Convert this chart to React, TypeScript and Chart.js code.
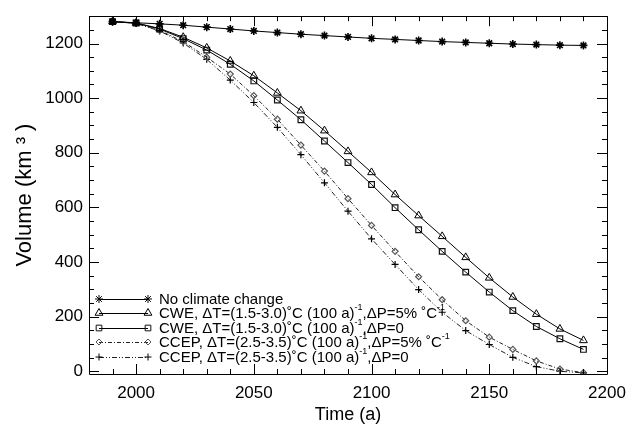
import React, { useEffect, useRef } from 'react';
import { Chart, registerables } from 'chart.js';
import { drawPoint } from 'chart.js/helpers';

Chart.register(...registerables);

const years = [1990, 2000, 2010, 2020, 2030, 2040, 2050, 2060, 2070, 2080, 2090, 2100, 2110, 2120, 2130, 2140, 2150, 2160, 2170, 2180, 2190];
const noChange = [1280, 1276, 1272, 1267, 1260, 1253, 1246, 1240, 1234, 1229, 1224, 1219, 1215, 1211, 1207, 1204, 1201, 1198, 1196, 1194, 1193];
const cwe5 = [1280, 1275, 1255, 1223, 1184, 1136, 1082, 1019, 954, 881, 805, 728, 647, 570, 494, 417, 342, 272, 209, 155, 113];
const cwe0 = [1280, 1275, 1253, 1218, 1176, 1124, 1063, 993, 921, 843, 764, 684, 599, 518, 439, 363, 290, 222, 164, 119, 80];
const ccep5 = [1280, 1274, 1248, 1207, 1150, 1088, 1009, 923, 828, 733, 632, 534, 439, 346, 262, 185, 125, 80, 38, 8, -5];
const ccep0 = [1280, 1274, 1246, 1202, 1142, 1066, 984, 893, 793, 690, 586, 485, 391, 299, 216, 149, 98, 51, 17, 0, -6];

const xTickLabels = [2000, 2050, 2100, 2150, 2200];
const yTickLabels = [0, 200, 400, 600, 800, 1000, 1200];

const seriesLabels = [
  'No climate change',
  'CWE, ΔT=(1.5-3.0)˚C (100 a)^{-1},ΔP=5% ˚C^{-1}',
  'CWE, ΔT=(1.5-3.0)˚C (100 a)^{-1},ΔP=0',
  'CCEP, ΔT=(2.5-3.5)˚C (100 a)^{-1},ΔP=5% ˚C^{-1}',
  'CCEP, ΔT=(2.5-3.5)˚C (100 a)^{-1},ΔP=0',
];

const FONT = '"Liberation Sans", Arial, Helvetica, sans-serif';

type Style = { pointStyle: string; radius: number; color: string; dash: number[]; pbw: number; pcolor: string };
const styles: Style[] = [
  { pointStyle: 'star', radius: 4, color: '#000', dash: [], pbw: 1.6, pcolor: '#000' },
  { pointStyle: 'triangle', radius: 4.5, color: '#000', dash: [], pbw: 1, pcolor: '#000' },
  { pointStyle: 'rect', radius: 4, color: '#000', dash: [], pbw: 1.2, pcolor: '#111' },
  { pointStyle: 'rectRot', radius: 3, color: '#222', dash: [4, 2, 1, 2], pbw: 1.2, pcolor: '#555' },
  { pointStyle: 'cross', radius: 3.5, color: '#222', dash: [5, 2, 1, 2, 1, 2], pbw: 1.2, pcolor: '#000' },
];

const seriesData = [noChange, cwe5, cwe0, ccep5, ccep0];

function drawRich(ctx: CanvasRenderingContext2D, text: string, x: number, y: number, size: number) {
  const parts = text.split(/(\^\{[^}]*\})/);
  let cx = x;
  for (const p of parts) {
    if (!p) continue;
    const m = p.match(/^\^\{([^}]*)\}$/);
    if (m) {
      ctx.font = `${Math.round(size * 0.62)}px ${FONT}`;
      ctx.fillText(m[1], cx, y - size * 0.42);
      cx += ctx.measureText(m[1]).width;
    } else {
      ctx.font = `${size}px ${FONT}`;
      ctx.fillText(p, cx, y);
      cx += ctx.measureText(p).width;
    }
  }
}

const framePlugin = {
  id: 'frameTicks',
  afterDatasetsDraw(chart: any) {
    const { ctx, chartArea } = chart;
    const xs = chart.scales.x;
    const ys = chart.scales.y;
    const { left, right, top, bottom } = chartArea;
    ctx.save();
    ctx.strokeStyle = '#000';
    ctx.lineWidth = 1;
    ctx.setLineDash([]);
    ctx.beginPath();
    ctx.rect(Math.round(left) + 0.5, Math.round(top) + 0.5, Math.round(right - left), Math.round(bottom - top));
    ctx.stroke();
    ctx.beginPath();
    for (let v = 1980; v <= 2200; v += 10) {
      const px = Math.round(xs.getPixelForValue(v)) + 0.5;
      const len = xTickLabels.includes(v) ? 10 : 5;
      ctx.moveTo(px, bottom);
      ctx.lineTo(px, bottom - len);
      ctx.moveTo(px, top);
      ctx.lineTo(px, top + len);
    }
    for (let v = 0; v <= 1300; v += 50) {
      const py = Math.round(ys.getPixelForValue(v)) + 0.5;
      const len = yTickLabels.includes(v) ? 10 : 5;
      ctx.moveTo(left, py);
      ctx.lineTo(left + len, py);
      ctx.moveTo(right, py);
      ctx.lineTo(right - len, py);
    }
    ctx.stroke();
    ctx.restore();
  },
  afterDraw(chart: any) {
    const { ctx } = chart;
    ctx.save();
    const x0 = 99, x1 = 148, tx = 159;
    const y0 = 299, dy = 14.4;
    chart.data.datasets.forEach((ds: any, i: number) => {
      const st = styles[i];
      const y = Math.round(y0 + i * dy);
      ctx.strokeStyle = st.color;
      ctx.lineWidth = 1;
      ctx.setLineDash(st.dash);
      ctx.beginPath();
      ctx.moveTo(x0, y + 0.5);
      ctx.lineTo(x1, y + 0.5);
      ctx.stroke();
      ctx.setLineDash([]);
      ctx.strokeStyle = st.pcolor;
      ctx.fillStyle = 'rgba(0,0,0,0)';
      const po = { pointStyle: st.pointStyle, radius: st.radius, borderWidth: st.pbw, rotation: 0 };
      drawPoint(ctx, po as any, x0, y);
      drawPoint(ctx, po as any, x1, y);
      ctx.fillStyle = '#000';
      ctx.textBaseline = 'middle';
      ctx.textAlign = 'left';
      drawRich(ctx, ds.label, tx, y + 1, 15);
    });
    ctx.restore();
  },
};

export default function App() {
  const ref = useRef<HTMLCanvasElement | null>(null);
  useEffect(() => {
    if (!ref.current) return;
    const chart = new Chart(ref.current, {
      type: 'line',
      data: {
        datasets: seriesData.map((arr, i) => ({
          label: seriesLabels[i],
          data: years.map((x, j) => ({ x, y: arr[j] })),
          borderColor: styles[i].color,
          borderWidth: 1,
          borderDash: styles[i].dash,
          pointStyle: styles[i].pointStyle as any,
          pointRadius: styles[i].radius,
          pointBorderWidth: styles[i].pbw,
          pointBorderColor: styles[i].pcolor,
          pointBackgroundColor: 'rgba(0,0,0,0)',
          fill: false,
          tension: 0,
        })),
      },
      options: {
        responsive: false,
        animation: false,
        events: [],
        layout: { padding: { top: 9, right: 28, left: 0, bottom: 0 } },
        plugins: { legend: { display: false }, tooltip: { enabled: false } },
        scales: {
          x: {
            type: 'linear',
            min: 1980,
            max: 2200,
            afterBuildTicks: (s: any) => { s.ticks = xTickLabels.map((v) => ({ value: v })); },
            afterFit: (s: any) => { s.height = 52; },
            grid: { display: false, drawTicks: false },
            border: { display: false },
            ticks: { color: '#000', font: { family: FONT, size: 17 }, padding: 9, maxRotation: 0, callback: (v: any) => String(v) },
            title: { display: true, text: 'Time (a)', color: '#000', font: { family: FONT, size: 18 }, padding: { top: 2, bottom: 0 } },
          },
          y: {
            type: 'linear',
            min: -10,
            max: 1300,
            afterBuildTicks: (s: any) => { s.ticks = yTickLabels.map((v) => ({ value: v })); },
            afterFit: (s: any) => { s.width = 89; },
            grid: { display: false, drawTicks: false },
            border: { display: false },
            ticks: { color: '#000', font: { family: FONT, size: 17 }, padding: 6, callback: (v: any) => String(v) },
            title: { display: true, text: 'Volume (km ³ )', color: '#000', font: { family: FONT, size: 22 }, padding: { top: 12, bottom: 0 } },
          },
        },
      },
      plugins: [framePlugin],
    } as any);
    return () => chart.destroy();
  }, []);
  return (
    <div style={{ position: 'fixed', left: 0, top: 0, width: 635, height: 426, background: '#fff' }}>
      <canvas ref={ref} width={635} height={426} style={{ width: 635, height: 426, display: 'block' }} />
    </div>
  );
}
